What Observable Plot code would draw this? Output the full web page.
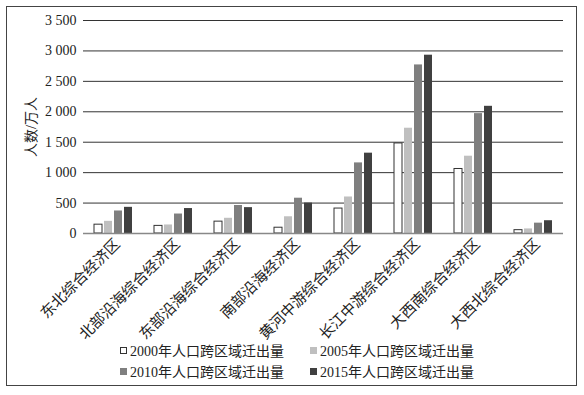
<!DOCTYPE html>
<html>
<head>
<meta charset="utf-8">
<script src="https://cdn.jsdelivr.net/npm/d3@7"></script>
<script src="https://cdn.jsdelivr.net/npm/@observablehq/plot@0.6"></script>
<style>
  html, body { margin: 0; padding: 0; background: #fff; }
  body { width: 584px; height: 395px; position: relative; overflow: hidden;
         font-family: "Liberation Serif", "Noto Sans CJK SC", serif; }
  #frame { position: absolute; left: 6px; top: 6px; width: 571px; height: 380px;
           border: 1.5px solid #444; box-sizing: border-box; pointer-events: none; }
  #chart { position: absolute; left: 0; top: 0; }
  #ylabel { position: absolute; left: 30px; top: 127px; transform: translate(-50%, -50%) rotate(-90deg);
            font-size: 14px; color: #222; white-space: nowrap; }
  .legend { position: absolute; left: 0; font-size: 14px; color: #222; white-space: nowrap; }
  .item { position: absolute; display: flex; align-items: center; }
  .sw { width: 7px; height: 7px; box-sizing: border-box; margin-right: 3px; }
</style>
</head>
<body>
<div id="chart"></div>
<div id="ylabel">人数/万人</div>
<div id="legend"></div>
<div id="frame"></div>
<script>
const regions = ["东北综合经济区", "北部沿海综合经济区", "东部沿海综合经济区", "南部沿海经济区",
                 "黄河中游综合经济区", "长江中游综合经济区", "大西南综合经济区", "大西北综合经济区"];
const series = ["2000年人口跨区域迁出量", "2005年人口跨区域迁出量", "2010年人口跨区域迁出量", "2015年人口跨区域迁出量"];
const v2000 = [145, 125, 195, 95, 410, 1480, 1060, 55];
const v2005 = [200, 140, 250, 275, 600, 1730, 1270, 75];
const v2010 = [370, 320, 460, 580, 1160, 2770, 1970, 170];
const v2015 = [430, 410, 425, 500, 1320, 2930, 2090, 210];
const yTicks = [0, 500, 1000, 1500, 2000, 2500, 3000, 3500];
const yTickLabels = ["0", "500", "1 000", "1 500", "2 000", "2 500", "3 000", "3 500"];
const fills = ["#ffffff", "#bfbfbf", "#7f7f7f", "#404040"];
const strokes = ["#333333", "none", "none", "none"];

const allValues = [v2000, v2005, v2010, v2015];
const data = [];
regions.forEach((r, i) => series.forEach((s, j) => data.push({region: r, series: s, value: allValues[j][i]})));

const chart = Plot.plot({
  width: 584,
  height: 345,
  marginLeft: 82,
  marginRight: 21,
  marginTop: 20,
  marginBottom: 112,
  style: { fontFamily: '"Liberation Serif", "Noto Sans CJK SC", serif', fontSize: "14px", color: "#222", background: "transparent", overflow: "visible" },
  fx: { domain: regions, paddingInner: 0, paddingOuter: 0, label: null },
  x: { domain: series, paddingInner: 0.19, paddingOuter: 0.9, axis: null },
  y: { domain: [0, 3500], label: null },
  color: { domain: series, range: fills },
  marks: [
    Plot.gridY(yTicks, { stroke: "#333", strokeOpacity: 1, strokeWidth: 1 }),
    Plot.axisY(yTicks, { tickSize: 0, tickPadding: 7, fontSize: 14, tickFormat: d => yTickLabels[yTicks.indexOf(d)], label: null }),
    Plot.barY(data, { fx: "region", x: "series", y: "value", fill: "series",
                      stroke: d => strokes[series.indexOf(d.series)], strokeWidth: 1 }),
    Plot.ruleY([0], { stroke: "#888", strokeWidth: 1.5 }),
    Plot.axisFx({ anchor: "bottom", tickRotate: -45, tickSize: 0, tickPadding: 6, dx: 4, dy: 2, fontSize: 15, label: null })
  ]
});
document.getElementById("chart").appendChild(chart);

// legend
const legend = document.getElementById("legend");
const pos = [[120, 349], [310, 349], [120, 370], [310, 370]];
series.forEach((s, j) => {
  const it = document.createElement("div");
  it.className = "item legend";
  it.style.left = pos[j][0] + "px";
  it.style.top = (pos[j][1] - 9) + "px";
  const sw = document.createElement("span");
  sw.className = "sw";
  sw.style.background = fills[j];
  sw.style.border = j === 0 ? "1px solid #333" : "none";
  const tx = document.createElement("span");
  tx.textContent = s;
  it.appendChild(sw); it.appendChild(tx);
  legend.appendChild(it);
});
</script>
</body>
</html>
